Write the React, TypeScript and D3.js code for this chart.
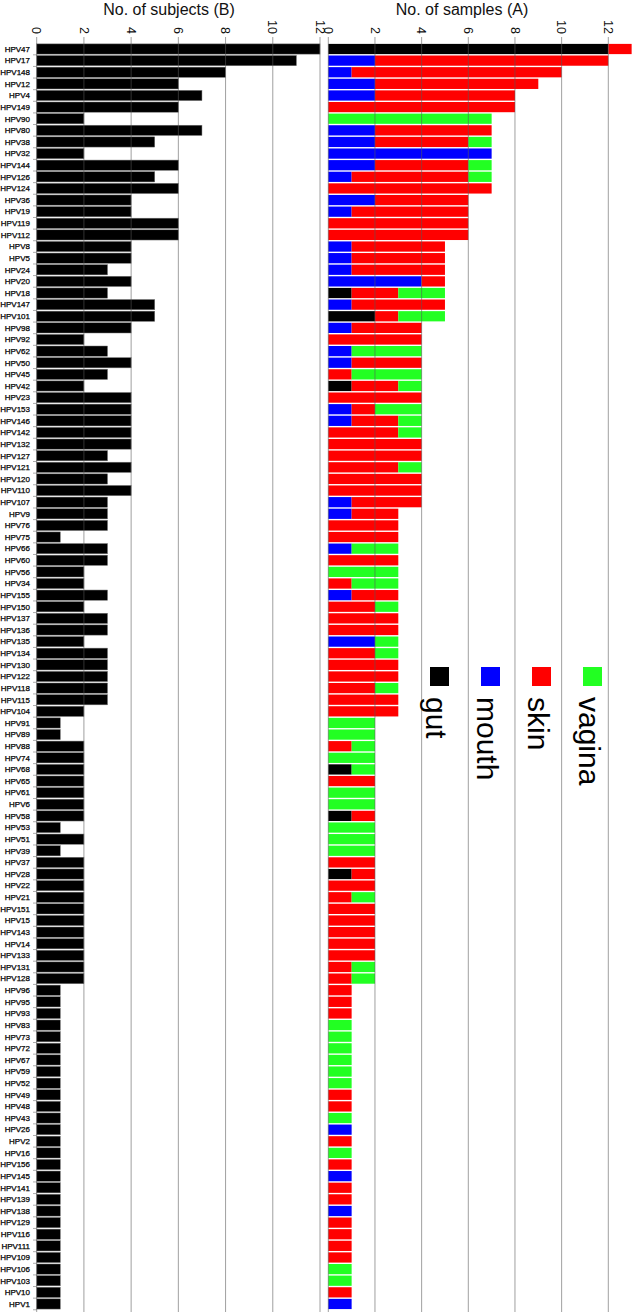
import React from "react";
import * as d3 from "d3";

const categories = [
  "HPV47","HPV17","HPV148","HPV12","HPV4","HPV149","HPV90","HPV80","HPV38","HPV32",
  "HPV144","HPV126","HPV124","HPV36","HPV19","HPV119","HPV112","HPV8","HPV5","HPV24",
  "HPV20","HPV18","HPV147","HPV101","HPV98","HPV92","HPV62","HPV50","HPV45","HPV42",
  "HPV23","HPV153","HPV146","HPV142","HPV132","HPV127","HPV121","HPV120","HPV110","HPV107",
  "HPV9","HPV76","HPV75","HPV66","HPV60","HPV56","HPV34","HPV155","HPV150","HPV137",
  "HPV136","HPV135","HPV134","HPV130","HPV122","HPV118","HPV115","HPV104","HPV91","HPV89",
  "HPV88","HPV74","HPV68","HPV65","HPV61","HPV6","HPV58","HPV53","HPV51","HPV39",
  "HPV37","HPV28","HPV22","HPV21","HPV151","HPV15","HPV143","HPV14","HPV133","HPV131",
  "HPV128","HPV96","HPV95","HPV93","HPV83","HPV73","HPV72","HPV67","HPV59","HPV52",
  "HPV49","HPV48","HPV43","HPV26","HPV2","HPV16","HPV156","HPV145","HPV141","HPV139",
  "HPV138","HPV129","HPV116","HPV111","HPV109","HPV106","HPV103","HPV10","HPV1"
];

const subjects = [
  12,11,8,6,7,6,2,7,5,2,
  6,5,6,4,4,6,6,4,4,3,
  4,3,5,5,4,2,3,4,3,2,
  4,4,4,4,4,3,4,3,4,3,
  3,3,1,3,3,2,2,3,2,3,
  3,2,3,3,3,3,3,2,1,1,
  2,2,2,2,2,2,2,1,2,1,
  2,2,2,2,2,2,2,2,2,2,
  2,1,1,1,1,1,1,1,1,1,
  1,1,1,1,1,1,1,1,1,1,
  1,1,1,1,1,1,1,1,1
];

const gut = [
  12,0,0,0,0,0,0,0,0,0,
  0,0,0,0,0,0,0,0,0,0,
  0,1,0,2,0,0,0,0,0,1,
  0,0,0,0,0,0,0,0,0,0,
  0,0,0,0,0,0,0,0,0,0,
  0,0,0,0,0,0,0,0,0,0,
  0,0,1,0,0,0,1,0,0,0,
  0,1,0,0,0,0,0,0,0,0,
  0,0,0,0,0,0,0,0,0,0,
  0,0,0,0,0,0,0,0,0,0,
  0,0,0,0,0,0,0,0,0
];

const mouth = [
  0,2,1,2,2,0,0,2,2,7,
  2,1,0,2,1,0,0,1,1,1,
  4,0,1,0,1,0,1,1,0,0,
  0,1,1,0,0,0,0,0,0,1,
  1,0,0,1,0,0,0,1,0,0,
  0,2,0,0,0,0,0,0,0,0,
  0,0,0,0,0,0,0,0,0,0,
  0,0,0,0,0,0,0,0,0,0,
  0,0,0,0,0,0,0,0,0,0,
  0,0,0,1,0,0,0,1,0,0,
  1,0,0,0,0,0,0,0,1
];

const skin = [
  1,10,9,7,6,8,0,5,4,0,
  4,5,7,4,5,6,6,4,4,4,
  1,2,4,1,3,4,0,3,1,2,
  4,1,2,3,4,4,3,4,4,3,
  2,3,3,0,3,0,1,2,2,3,
  3,0,2,3,3,2,3,3,0,0,
  1,0,0,2,0,0,1,0,0,0,
  2,1,2,1,2,2,2,2,2,1,
  1,1,1,1,0,0,0,0,0,0,
  1,1,0,0,1,0,1,0,1,1,
  0,1,1,1,1,0,0,1,0
];

const vagina = [
  0,0,0,0,0,0,7,0,1,0,
  1,1,0,0,0,0,0,0,0,0,
  0,2,0,2,0,0,3,0,3,1,
  0,2,1,1,0,0,1,0,0,0,
  0,0,0,2,0,3,2,0,1,0,
  0,1,1,0,0,1,0,0,2,2,
  1,2,1,0,2,2,0,2,2,2,
  0,0,0,1,0,0,0,0,0,1,
  1,0,0,0,1,1,1,1,1,1,
  0,0,1,0,0,1,0,0,0,0,
  0,0,0,0,0,1,1,0,0
];

const sites = ["gut", "mouth", "skin", "vagina"];
const siteColors = ["#000000", "#0000ff", "#ff0000", "#22ff22"];
const xTicks = [0, 2, 4, 6, 8, 10, 12];

const W = 638;
const H = 1312;

export default function App() {
  const step = 11.62;
  const y = d3
    .scaleBand<string>()
    .domain(categories)
    .range([49 - step / 2, 49 - step / 2 + step * categories.length])
    .paddingInner(0.12)
    .paddingOuter(0.06);

  const xL = d3.scaleLinear().domain([0, 12]).range([36.7, 320]);
  const xR = d3.scaleLinear().domain([0, 12]).range([328.3, 608.3]);

  const siteData = [gut, mouth, skin, vagina];
  const stackRows = categories.map((c, i) => {
    const row: any = { cat: c };
    sites.forEach((s, k) => (row[s] = siteData[k][i]));
    return row;
  });
  const stacked = d3.stack().keys(sites)(stackRows);

  const font = "'Liberation Sans', Arial, sans-serif";
  const gridTop = 37;

  return (
    <svg
      width={W}
      height={H}
      style={{ position: "absolute", left: 0, top: 0, display: "block", background: "#fff" }}
      fontFamily={font}
    >
      <rect x={0} y={0} width={W} height={H} fill="#fff" />
      {/* titles */}
      <text x={169} y={15} fontSize={16} textAnchor="middle" fill="#111">
        No. of subjects (B)
      </text>
      <text x={462} y={15} fontSize={16} textAnchor="middle" fill="#111">
        No. of samples (A)
      </text>

      {/* tick labels */}
      {xTicks.map((t) => (
        <text
          key={"tl" + t}
          transform={`translate(${xL(t)},34) rotate(90)`}
          textAnchor="end"
          dy="0.35em"
          fontSize={12.5}
          fill="#111"
        >
          {t}
        </text>
      ))}
      {xTicks.map((t) => (
        <text
          key={"tr" + t}
          transform={`translate(${xR(t)},34) rotate(90)`}
          textAnchor="end"
          dy="0.35em"
          fontSize={12.5}
          fill="#111"
        >
          {t}
        </text>
      ))}

      {/* category labels */}
      {categories.map((c) => (
        <text
          key={"c" + c}
          x={30}
          y={(y(c) as number) + y.bandwidth() / 2}
          dy="0.35em"
          textAnchor="end"
          fontSize={8}
          fill="#000"
          stroke="#000"
          strokeWidth={0.25}
        >
          {c}
        </text>
      ))}
      {/* small category ticks */}
      {categories.map((c) => (
        <line
          key={"ct" + c}
          x1={33}
          x2={36.7}
          y1={(y(c) as number) + y.bandwidth() + 0.7}
          y2={(y(c) as number) + y.bandwidth() + 0.7}
          stroke="#aaa"
          strokeWidth={1}
        />
      ))}

      {/* left bars */}
      {categories.map((c, i) => (
        <rect
          key={"lb" + c}
          x={xL(0)}
          y={y(c)}
          width={xL(subjects[i]) - xL(0)}
          height={y.bandwidth()}
          fill="#000"
          stroke="#777"
          strokeWidth={0.5}
        />
      ))}

      {/* right stacked bars */}
      {stacked.map((layer, k) =>
        layer.map((d, i) =>
          d[1] > d[0] ? (
            <rect
              key={"rb" + k + "_" + i}
              x={xR(d[0])}
              y={y(categories[i])}
              width={xR(d[1]) - xR(d[0])}
              height={y.bandwidth()}
              fill={siteColors[k]}
            />
          ) : null
        )
      )}

      {/* gridlines on top */}
      {xTicks.map((t) => (
        <line
          key={"gl" + t}
          x1={xL(t)}
          x2={xL(t)}
          y1={gridTop}
          y2={H}
          stroke="#585858"
          strokeOpacity={0.57}
          strokeWidth={1}
        />
      ))}
      {xTicks.map((t) => (
        <line
          key={"gr" + t}
          x1={xR(t)}
          x2={xR(t)}
          y1={gridTop}
          y2={H}
          stroke="#585858"
          strokeOpacity={0.57}
          strokeWidth={1}
        />
      ))}

      {/* legend */}
      {sites.map((s, k) => {
        const lx = 430 + k * 51;
        return (
          <g key={"lg" + s}>
            <rect x={lx} y={667} width={19} height={19} fill={siteColors[k]} />
            <text
              transform={`translate(${lx - 4},697) rotate(90)`}
              fontSize={30}
              fill="#000"
            >
              {s}
            </text>
          </g>
        );
      })}
    </svg>
  );
}
